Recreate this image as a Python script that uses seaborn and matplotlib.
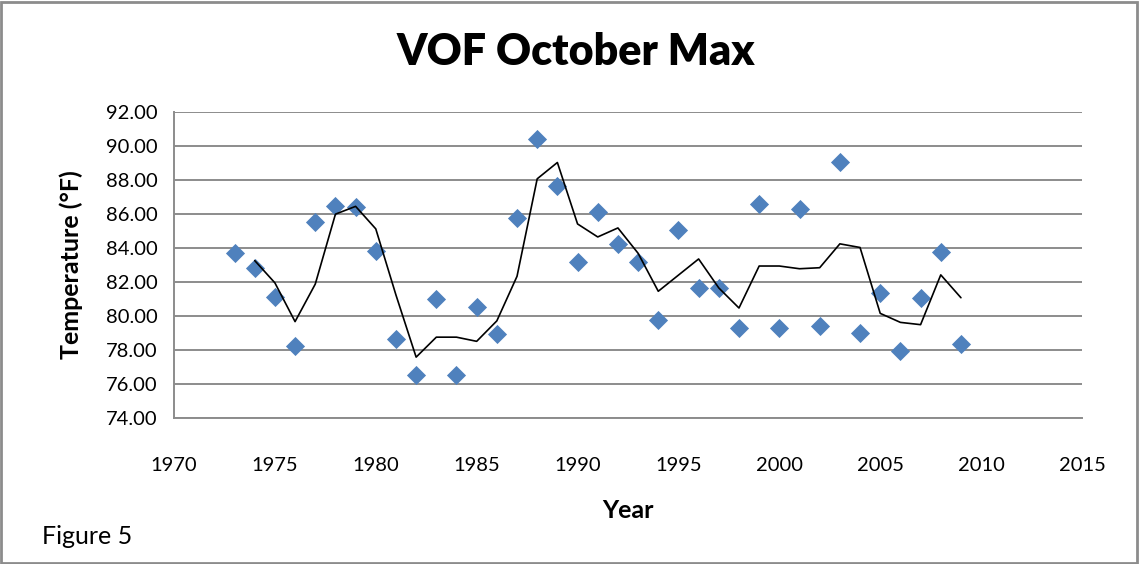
import pandas as pd
import matplotlib.pyplot as plt
import seaborn as sns
from matplotlib.patches import Rectangle

# October max temperatures
years = [1973, 1974, 1975, 1976, 1977, 1978, 1979, 1980, 1981, 1982,
         1983, 1984, 1985, 1986, 1987, 1988, 1989, 1990, 1991, 1992,
         1993, 1994, 1995, 1996, 1997, 1998, 1999, 2000, 2001, 2002,
         2003, 2004, 2005, 2006, 2007, 2008, 2009]
max_temp = [83.72, 82.80, 81.10, 78.24, 85.51, 86.47, 86.43, 83.82, 78.65, 76.51,
            81.00, 76.51, 80.51, 78.92, 85.75, 90.39, 87.67, 83.16, 86.14, 84.22,
            83.16, 79.75, 85.06, 81.65, 81.65, 79.29, 86.59, 79.29, 86.27, 79.41,
            89.08, 78.98, 81.33, 77.92, 81.06, 83.78, 78.37]
x_ticks = [1970, 1975, 1980, 1985, 1990, 1995, 2000, 2005, 2010, 2015]
y_ticks = [74, 76, 78, 80, 82, 84, 86, 88, 90, 92]

df = pd.DataFrame({'Year': years, 'Temp': max_temp})
# Excel "2 per. Mov. Avg." trendline
df['MovAvg'] = df['Temp'].rolling(2).mean()

sns.set_style("white")
plt.rcParams['font.family'] = ['Lato', 'DejaVu Sans']
plt.rcParams['text.color'] = 'black'

fig = plt.figure(figsize=(11.39, 5.64), dpi=100)
ax = fig.add_axes([174 / 1139, 1 - 418 / 564, (1082 - 174) / 1139, (418 - 112) / 564])

sns.scatterplot(data=df, x='Year', y='Temp', marker='D', s=95, color='#4F81BD',
                linewidth=0, ax=ax, zorder=3)
sns.lineplot(data=df.dropna(), x='Year', y='MovAvg', color='black', linewidth=1.2,
             ax=ax, zorder=4)

ax.set_xlim(1970, 2015)
ax.set_ylim(74, 92)
ax.set_xticks(x_ticks)
ax.set_yticks(y_ticks)
ax.set_yticklabels([f'{v:.2f}' for v in y_ticks])
ax.tick_params(axis='both', length=0, labelsize=14.5, colors='black')
ax.tick_params(axis='x', pad=28)
ax.tick_params(axis='y', pad=12)
ax.grid(axis='y', color='#8C8C8C', linewidth=1.4)
ax.set_axisbelow(True)
for side in ['top', 'right']:
    ax.spines[side].set_visible(False)
for side in ['left', 'bottom']:
    ax.spines[side].set_color('#8C8C8C')
    ax.spines[side].set_linewidth(1.4)

ax.set_xlabel('Year', fontsize=18, fontweight='bold', labelpad=18, color='black')
ax.set_ylabel('Temperature (°F)', fontsize=18, fontweight='bold', labelpad=16, color='black')
fig.text(576 / 1139, 1 - 52 / 564, 'VOF October Max', fontsize=31, fontweight='heavy',
         ha='center', va='center', color='black')
fig.text(42 / 1139, 1 - 536 / 564, 'Figure 5', fontsize=18, ha='left', va='center',
         color='black')

# chart area border
fig.patches.append(Rectangle((0.001, 0.002), 0.997, 0.995, transform=fig.transFigure,
                             fill=False, edgecolor='#8C8C8C', linewidth=2))

fig.savefig('out.png', dpi=100)
